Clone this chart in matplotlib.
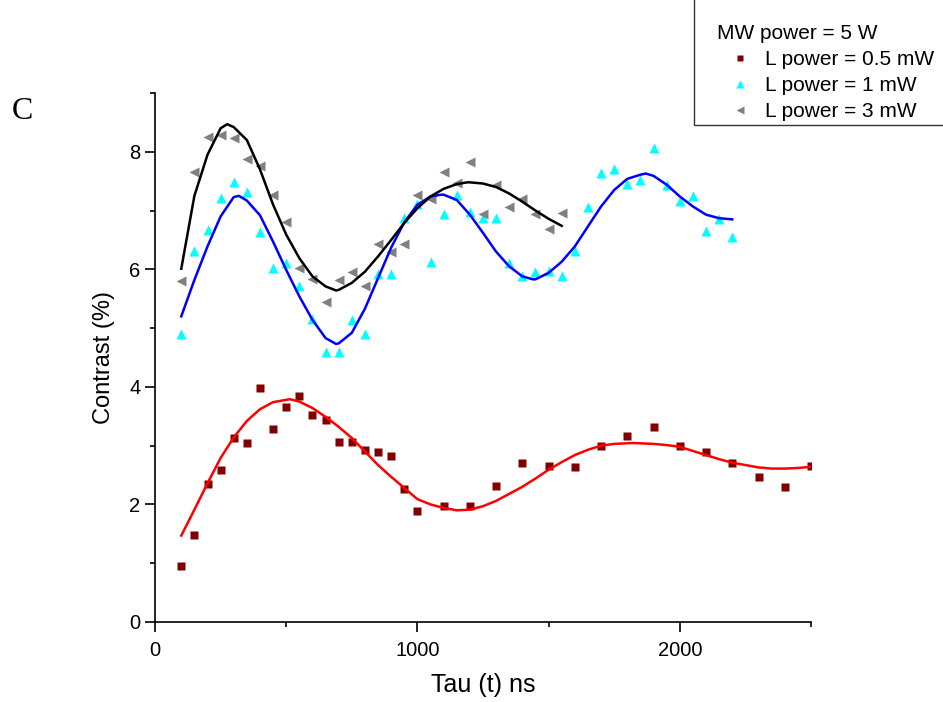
import matplotlib.pyplot as plt
from matplotlib.ticker import MultipleLocator
from matplotlib.patches import Rectangle

plt.rcParams['font.family'] = ['Liberation Sans', 'DejaVu Sans']

# measured points
tau_05 = list(range(100, 1001, 50)) + list(range(1100, 2501, 100))
c_05 = [0.96, 1.48, 2.34, 2.58, 3.13, 3.04, 3.98, 3.28, 3.65, 3.84, 3.52, 3.44, 3.06, 3.06,
        2.93, 2.89, 2.83, 2.26, 1.88,
        1.97, 1.98, 2.32, 2.71, 2.66, 2.63, 3.00, 3.17, 3.32, 3.00, 2.89, 2.70, 2.47, 2.30, 2.66]

tau_1 = list(range(100, 2201, 50))
c_1 = [4.90, 6.31, 6.67, 7.22, 7.49, 7.32, 6.63, 6.02, 6.10, 5.72, 5.15, 4.59, 4.59, 5.13,
       4.90, 5.92, 5.92, 6.87, 7.11, 6.13, 6.94, 7.26, 6.98, 6.87, 6.88, 6.10, 5.89, 5.96,
       5.98, 5.89, 6.31, 7.06, 7.64, 7.70, 7.46, 7.52, 8.07, 7.43, 7.17, 7.24, 6.66, 6.86, 6.55]

tau_3 = list(range(100, 1551, 50))
c_3 = [5.80, 7.65, 8.26, 8.28, 8.24, 7.88, 7.76, 7.26, 6.81, 6.02, 5.83, 5.44, 5.82, 5.95,
       5.71, 6.43, 6.29, 6.43, 7.26, 7.20, 7.66, 7.47, 7.82, 6.94, 7.43, 7.06, 7.20, 6.94,
       6.68, 6.95]

# fit curves
fit_05_x = [100, 150, 200, 250, 300, 350, 400, 450, 500, 515, 550, 600, 650, 700, 750, 800,
            850, 900, 950, 1000, 1050, 1100, 1150, 1200, 1250, 1300, 1350, 1400, 1450, 1500,
            1550, 1600, 1650, 1700, 1750, 1800, 1820, 1850, 1900, 1950, 2000, 2050, 2100, 2150,
            2200, 2250, 2300, 2350, 2400, 2450, 2500]
fit_05 = [1.47, 1.91, 2.36, 2.79, 3.14, 3.42, 3.62, 3.74, 3.78, 3.79, 3.75, 3.64, 3.49, 3.32,
          3.13, 2.90, 2.67, 2.47, 2.28, 2.09, 2.00, 1.94, 1.90, 1.91, 1.97, 2.06, 2.18, 2.30,
          2.44, 2.59, 2.72, 2.84, 2.93, 3.00, 3.03, 3.04, 3.045, 3.04, 3.03, 3.01, 2.98, 2.91,
          2.84, 2.77, 2.71, 2.67, 2.63, 2.61, 2.61, 2.62, 2.64]

fit_1_x = [100, 150, 200, 250, 300, 320, 350, 400, 450, 500, 550, 600, 650, 690, 700, 750,
           800, 850, 900, 950, 1000, 1050, 1090, 1100, 1150, 1200, 1250, 1300, 1350, 1400,
           1440, 1450, 1500, 1550, 1600, 1650, 1700, 1750, 1800, 1850, 1870, 1900, 1950, 2000,
           2050, 2100, 2150, 2200]
fit_1 = [5.20, 5.82, 6.39, 6.90, 7.23, 7.25, 7.17, 6.92, 6.47, 5.99, 5.54, 5.14, 4.83, 4.73,
         4.74, 4.92, 5.33, 5.85, 6.37, 6.80, 7.10, 7.24, 7.27, 7.27, 7.18, 6.93, 6.62, 6.30,
         6.05, 5.88, 5.83, 5.83, 5.94, 6.13, 6.39, 6.73, 7.07, 7.35, 7.54, 7.61, 7.63, 7.59,
         7.44, 7.24, 7.07, 6.93, 6.87, 6.85]

fit_3_x = [100, 150, 200, 250, 275, 300, 350, 400, 450, 500, 550, 600, 650, 690, 700, 750,
           800, 850, 900, 950, 1000, 1050, 1100, 1150, 1190, 1200, 1250, 1300, 1350, 1400,
           1450, 1500, 1550]
fit_3 = [6.01, 7.25, 7.95, 8.40, 8.47, 8.42, 8.20, 7.70, 7.10, 6.59, 6.19, 5.88, 5.71, 5.64,
         5.65, 5.77, 5.96, 6.22, 6.50, 6.79, 7.04, 7.24, 7.37, 7.45, 7.48, 7.48, 7.46, 7.40,
         7.29, 7.15, 7.00, 6.86, 6.74]

fig = plt.figure(figsize=(9.43, 7.02), dpi=100)
ax = fig.add_axes([0.1644, 0.114, 0.6956, 0.7535])

ax.plot(tau_05, c_05, 's', color='#800000', ms=6, mec='none', label='L power = 0.5 mW')
ax.plot(tau_1, c_1, '^', color='#00FFFF', ms=7.2, mec='none', label='L power = 1 mW')
ax.plot(tau_3, c_3, '<', color='#808080', ms=7.2, mec='none', label='L power = 3 mW')

ax.plot(fit_05_x, fit_05, color='#FF0000', lw=1.8)
ax.plot(fit_1_x, fit_1, color='#0000FF', lw=1.8)
ax.plot(fit_3_x, fit_3, color='black', lw=1.8)

ax.set_xlim(0, 2500)
ax.set_ylim(0, 9)
ax.xaxis.set_major_locator(MultipleLocator(1000))
ax.xaxis.set_minor_locator(MultipleLocator(500))
ax.yaxis.set_major_locator(MultipleLocator(2))
ax.yaxis.set_minor_locator(MultipleLocator(1))
ax.tick_params(which='major', length=7, width=1.2, labelsize=14.5, direction='out')
ax.tick_params(which='minor', length=3.5, width=1.2, direction='out')
ax.tick_params(axis='x', which='major', pad=7)
ax.spines['top'].set_visible(False)
ax.spines['right'].set_visible(False)
ax.spines['left'].set_linewidth(1.2)
ax.spines['bottom'].set_linewidth(1.2)

ax.set_xlabel('Tau (t) ns', fontsize=18, labelpad=9)
ax.set_ylabel('Contrast (%)', fontsize=17, labelpad=10)

fig.text(0.012, 0.83, 'C', fontsize=23, family='Liberation Serif')

# legend box, open to the right/top edge of the figure
fig.patches.append(Rectangle((694 / 943, 1 - 125 / 702), 0.4, 0.4, transform=fig.transFigure,
                             fill=False, edgecolor='#333333', lw=1.0))
leg = fig.legend(loc='upper left', bbox_to_anchor=(707 / 943, 1 - 14 / 702),
                 title='MW power = 5 W', title_fontsize=15, fontsize=15,
                 frameon=False, alignment='left', markerscale=0.8,
                 handlelength=2.2, handletextpad=0.1, labelspacing=0.33,
                 borderpad=0.0)

fig.savefig('out.png', dpi=100)
